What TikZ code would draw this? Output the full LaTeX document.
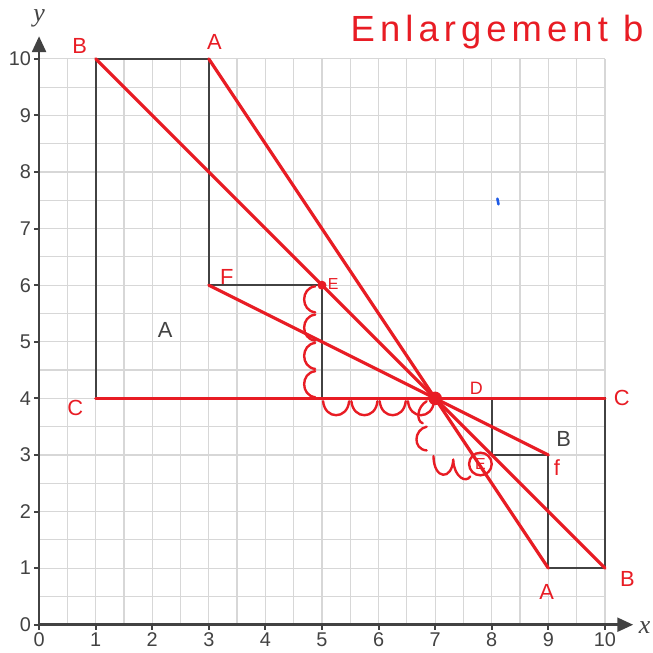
\documentclass[tikz,border=0pt]{standalone}
\usepackage{fontspec}
\setmainfont{Liberation Sans}
\newfontfamily\serifit{Liberation Serif}
\newfontfamily\penfont[LetterSpace=14]{Liberation Sans}
\usetikzlibrary{arrows.meta}

\definecolor{penred}{RGB}{232,28,36}
\definecolor{inkgrey}{RGB}{66,66,66}
\definecolor{gridgrey}{RGB}{215,215,215}
\definecolor{penblue}{RGB}{30,90,230}

\tikzset{
  gridline/.style={gridgrey, line width=0.6pt},
  axisline/.style={inkgrey, line width=1.3pt, -{Triangle[length=8pt,width=7pt]}},
  shapeline/.style={inkgrey, line width=1.1pt},
  redpen/.style={penred, line width=1.6pt, line cap=round},
  scribble/.style={penred, line width=1.2pt, line cap=round},
  hand/.style={penred, inner sep=0pt, font=\fontsize{11}{12}\selectfont},
  ticklbl/.style={inkgrey, inner sep=1pt, font=\fontsize{10}{12}\selectfont},
}

\begin{document}
\begin{tikzpicture}
\useasboundingbox (-0.69,-0.495) rectangle (10.85,11.04);

% grid
\draw[gridline] (0,0) grid[step=0.5] (10,10);

% axes
\draw[axisline] (0,0) -- (10.5,0);
\draw[axisline] (0,0) -- (0,10.4);
\node[inkgrey, font=\serifit\itshape\fontsize{13}{14}\selectfont] (xlbl) at (10.7,-0.05) {x};
\node[inkgrey, font=\serifit\itshape\fontsize{13}{14}\selectfont] (ylbl) at (0,10.72) {y};
\foreach \n in {0,...,10} {
  \draw[inkgrey, line width=1pt] (\n,0) -- (\n,-0.09);
  \draw[inkgrey, line width=1pt] (0,\n) -- (-0.09,\n);
  \node[ticklbl, anchor=north] (xt\n) at (\n,-0.1) {\n};
  \node[ticklbl, anchor=east] (yt\n) at (-0.1,\n) {\n};
}

% shapes A and B
\draw[shapeline] (1,4) -- (1,10) -- (3,10) -- (3,6) -- (5,6) -- (5,4) -- cycle;
\draw[shapeline] (8,4) -- (10,4) -- (10,1) -- (9,1) -- (9,3) -- (8,3) -- cycle;
\node[inkgrey, font=\fontsize{11}{12}\selectfont] (shapeA) at (2.23,5.2) {A};
\node[inkgrey, font=\fontsize{11}{12}\selectfont] (shapeB) at (9.27,3.28) {B};

% points
\coordinate (ctr) at (7,4);
\coordinate (pA) at (3,10);
\coordinate (pB) at (1,10);
\coordinate (pC) at (1,4);
\coordinate (pE) at (5,6);
\coordinate (pF) at (3,6);
\coordinate (qA) at (9,1);
\coordinate (qB) at (10,1);
\coordinate (qC) at (10,4);
\coordinate (qF) at (9,3);

% rays through the centre
\draw[redpen] (pA) -- (qA);
\draw[redpen] (pB) -- (qB);
\draw[redpen] (pF) -- (qF);
\draw[redpen] (pC) -- (qC);
\fill[penred] (ctr) circle (0.12);
\fill[penred] (pE) circle (0.08);

% counting loops
\foreach \y in {6,5.5,5,4.5}
  \draw[scribble] (4.88,\y-0.02) .. controls (4.62,\y-0.05) and (4.62,\y-0.45) .. (4.88,\y-0.48);
\foreach \x in {5,5.5,6,6.5}
  \draw[scribble] (\x+0.02,3.95) .. controls (\x+0.05,3.62) and (\x+0.45,3.62) .. (\x+0.48,3.95);
\draw[scribble] (6.85,3.95) .. controls (6.68,3.85) and (6.66,3.6) .. (6.78,3.56);
\draw[scribble] (6.85,3.5) .. controls (6.62,3.45) and (6.6,3.1) .. (6.85,3.08);
\draw[scribble] (6.97,2.98) .. controls (6.98,2.55) and (7.3,2.55) .. (7.32,2.92);
\draw[scribble] (7.32,2.9) .. controls (7.34,2.6) and (7.55,2.5) .. (7.62,2.62);
\draw[scribble] (7.8,2.84) circle (0.2);

% handwritten labels
\node[hand] (lB) at (0.72,10.22) {B};
\node[hand] (lA) at (3.1,10.3) {A};
\node[hand] (lF) at (3.32,6.15) {F};
\node[hand, font=\fontsize{8}{9}\selectfont] (lE) at (5.2,6.02) {E};
\node[hand] (lC) at (0.64,3.83) {C};
\node[hand, font=\fontsize{9}{10}\selectfont] (lD) at (7.73,4.18) {D};
\node[hand] (rC) at (10.3,4.0) {C};
\node[hand] (rf) at (9.15,2.78) {f};
\node[hand, font=\fontsize{8}{9}\selectfont] (rE) at (7.8,2.84) {E};
\node[hand] (rA) at (8.97,0.57) {A};
\node[hand] (rB) at (10.4,0.8) {B};
\node[hand, font=\penfont\fontsize{18.3}{20}\selectfont, anchor=base west] (title) at (5.5,10.3) {Enlargement b};

% stray pen mark
\coordinate (dotA) at (8.1,7.53);
\coordinate (dotB) at (8.12,7.43);
\draw[penblue, line width=1.3pt, line cap=round] (dotA) -- (dotB);
\end{tikzpicture}
\end{document}
